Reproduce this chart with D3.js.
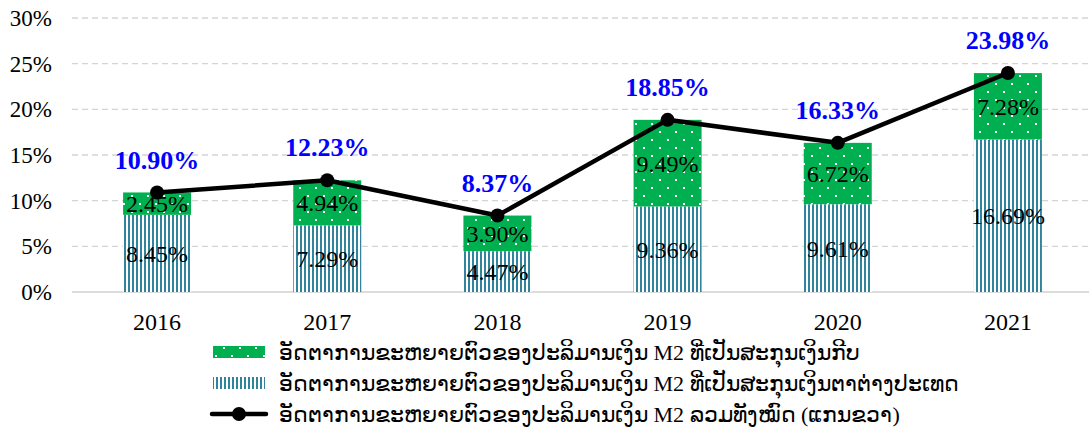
<!DOCTYPE html>
<head>
  <meta charset="utf-8">
  <script src="https://d3js.org/d3.v7.min.js"></script>
  <style>
    body { margin: 0; background: #fff; }
    text { font-family: "Times New Roman", "Liberation Serif", "DejaVu Serif", serif; }
  </style>
</head>
<body>
<svg id="chart"></svg>
<script>
  // chart data
  var years = ["2016", "2017", "2018", "2019", "2020", "2021"];
  var foreignCcy = [8.45, 7.29, 4.47, 9.36, 9.61, 16.69];   // striped, bottom
  var kipCcy = [2.45, 4.94, 3.90, 9.49, 6.72, 7.28];        // green dots, top
  var totalM2 = [10.90, 12.23, 8.37, 18.85, 16.33, 23.98];  // line
  var yTicks = [0, 5, 10, 15, 20, 25, 30];
  var legendLabels = [
    "ອັດຕາການຂະຫຍາຍຕົວຂອງປະລິມານເງິນ M2 ທີ່ເປັນສະກຸນເງິນກີບ",
    "ອັດຕາການຂະຫຍາຍຕົວຂອງປະລິມານເງິນ M2 ທີ່ເປັນສະກຸນເງິນຕາຕ່າງປະເທດ",
    "ອັດຕາການຂະຫຍາຍຕົວຂອງປະລິມານເງິນ M2 ລວມທັງໝົດ (ແກນຂວາ)"
  ];

  var width = 1089, height = 433;
  var svg = d3.select("#chart").attr("width", width).attr("height", height);

  var defs = svg.append("defs");
  // vertical stripes
  var stripe = defs.append("pattern").attr("id", "stripes")
    .attr("patternUnits", "userSpaceOnUse").attr("width", 4).attr("height", 4);
  stripe.append("rect").attr("width", 4).attr("height", 4).attr("fill", "#fff");
  stripe.append("rect").attr("width", 2).attr("height", 4).attr("fill", "#31849B");
  // green with white dots
  var dots = defs.append("pattern").attr("id", "dots")
    .attr("patternUnits", "userSpaceOnUse").attr("width", 16).attr("height", 16);
  dots.append("rect").attr("width", 16).attr("height", 16).attr("fill", "#00B050");
  dots.append("rect").attr("x", 3).attr("y", 3).attr("width", 2).attr("height", 2).attr("fill", "#fff");
  dots.append("rect").attr("x", 11).attr("y", 11).attr("width", 2).attr("height", 2).attr("fill", "#fff");

  var xc = d3.scaleBand().domain(years).range([72, 1093]);
  var y = d3.scaleLinear().domain([0, 30]).range([292, 18]);

  // gridlines
  svg.append("g").selectAll("line").data(yTicks.slice(1)).join("line")
    .attr("x1", 72).attr("x2", 1089)
    .attr("y1", d => y(d)).attr("y2", d => y(d))
    .attr("stroke", "#d4d4d4").attr("stroke-width", 1.3).attr("stroke-dasharray", "6,4");
  svg.append("line").attr("x1", 72).attr("x2", 1089).attr("y1", y(0)).attr("y2", y(0))
    .attr("stroke", "#d0d0d0").attr("stroke-width", 1.5);

  // y axis labels
  svg.append("g").selectAll("text").data(yTicks).join("text")
    .attr("x", 52).attr("y", d => y(d)).attr("dy", "0.35em")
    .attr("text-anchor", "end").attr("font-size", 23).attr("fill", "#000")
    .text(d => d + "%");

  var xMid = d => xc(d) + xc.bandwidth() / 2;
  var bw = 68;

  // x labels
  svg.append("g").selectAll("text").data(years).join("text")
    .attr("x", d => xMid(d)).attr("y", 322).attr("dy", "0.35em")
    .attr("text-anchor", "middle").attr("font-size", 24).text(d => d);

  var rows = years.map((yr, i) => ({ yr: yr, f: foreignCcy[i], k: kipCcy[i], t: totalM2[i] }));

  // bottom segments (foreign currency)
  svg.append("g").selectAll("rect").data(rows).join("rect")
    .attr("x", d => xMid(d.yr) - bw / 2).attr("width", bw)
    .attr("y", d => y(d.f)).attr("height", d => y(0) - y(d.f))
    .attr("fill", "url(#stripes)");
  // top segments (kip)
  svg.append("g").selectAll("rect").data(rows).join("rect")
    .attr("x", d => xMid(d.yr) - bw / 2).attr("width", bw)
    .attr("y", d => y(d.f + d.k)).attr("height", d => y(d.f) - y(d.f + d.k))
    .attr("fill", "url(#dots)");

  // segment labels
  svg.append("g").selectAll("text").data(rows).join("text")
    .attr("x", d => xMid(d.yr)).attr("y", d => y(d.f / 2)).attr("dy", "0.35em")
    .attr("text-anchor", "middle").attr("font-size", 24).text(d => d.f.toFixed(2) + "%");
  svg.append("g").selectAll("text").data(rows).join("text")
    .attr("x", d => xMid(d.yr)).attr("y", d => y(d.f + d.k / 2)).attr("dy", "0.35em")
    .attr("text-anchor", "middle").attr("font-size", 24).text(d => d.k.toFixed(2) + "%");

  // total line
  var line = d3.line().x(d => xMid(d.yr)).y(d => y(d.t));
  svg.append("path").datum(rows).attr("d", line)
    .attr("fill", "none").attr("stroke", "#000").attr("stroke-width", 4.5)
    .attr("stroke-linejoin", "round");
  svg.append("g").selectAll("circle").data(rows).join("circle")
    .attr("cx", d => xMid(d.yr)).attr("cy", d => y(d.t)).attr("r", 7).attr("fill", "#000");
  svg.append("g").selectAll("text").data(rows).join("text")
    .attr("x", d => xMid(d.yr)).attr("y", d => y(d.t) - 33).attr("dy", "0.35em")
    .attr("text-anchor", "middle").attr("font-size", 26).attr("font-weight", "bold")
    .attr("fill", "#0000FF").text(d => d.t.toFixed(2) + "%");

  // legend
  var lg = svg.append("g").attr("transform", "translate(212,352)");
  var ly = d3.scalePoint().domain([0, 1, 2]).range([0, 62]);
  lg.append("rect").attr("x", 1).attr("y", ly(0) - 6).attr("width", 52).attr("height", 12).attr("fill", "url(#dots)");
  lg.append("rect").attr("x", 1).attr("y", ly(1) - 6).attr("width", 52).attr("height", 12).attr("fill", "url(#stripes)");
  lg.append("line").attr("x1", 0).attr("x2", 54).attr("y1", ly(2)).attr("y2", ly(2))
    .attr("stroke", "#000").attr("stroke-width", 4.5).attr("stroke-linecap", "round");
  lg.append("circle").attr("cx", 27).attr("cy", ly(2)).attr("r", 7).attr("fill", "#000");
  lg.selectAll("text.lab").data(legendLabels).join("text").attr("class", "lab")
    .attr("x", 67).attr("y", (d, i) => ly(i)).attr("dy", "0.35em")
    .attr("font-size", 22).text(d => d);
</script>
</body>
